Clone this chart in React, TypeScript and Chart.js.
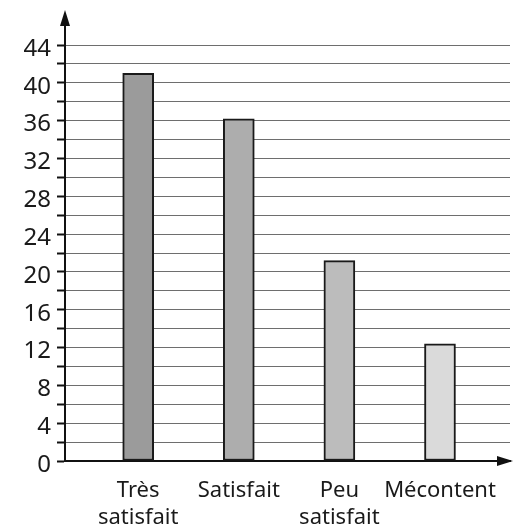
import { useEffect, useRef } from "react";
import { Chart, registerables } from "chart.js";

Chart.register(...registerables);

const categories: string[][] = [["Très", "satisfait"], ["Satisfait"], ["Peu", "satisfait"], ["Mécontent"]];
const values: number[] = [41, 36.2, 21.2, 12.4];
const barColors: string[] = ["#9b9b9b", "#adadad", "#bcbcbc", "#dadada"];
const yMin = 0;
const yMax = 44;
const yStep = 2;
const yLabelStep = 4;

const arrowsPlugin = {
  id: "arrows",
  afterDraw(chart: any) {
    const { ctx, chartArea } = chart;
    const x0 = chartArea.left;
    const y0 = chartArea.bottom;
    ctx.save();
    ctx.strokeStyle = "#111";
    ctx.fillStyle = "#111";
    ctx.lineWidth = 2;
    // y axis extension + arrow
    ctx.beginPath();
    ctx.moveTo(x0, chartArea.top);
    ctx.lineTo(x0, chartArea.top - 22);
    ctx.stroke();
    ctx.beginPath();
    ctx.moveTo(x0, chartArea.top - 35);
    ctx.lineTo(x0 - 5, chartArea.top - 19);
    ctx.lineTo(x0 + 5, chartArea.top - 19);
    ctx.closePath();
    ctx.fill();
    // x axis arrow
    ctx.beginPath();
    ctx.moveTo(chartArea.right + 3, y0);
    ctx.lineTo(chartArea.right - 13, y0 - 5);
    ctx.lineTo(chartArea.right - 13, y0 + 5);
    ctx.closePath();
    ctx.fill();
    ctx.restore();
  },
};

export default function App() {
  const ref = useRef<HTMLCanvasElement | null>(null);
  useEffect(() => {
    document.body.style.margin = "0";
    const chart = new Chart(ref.current as HTMLCanvasElement, {
      type: "bar",
      data: {
        datasets: [
          {
            data: values.map((v, i) => ({ x: i + 1, y: v })),
            backgroundColor: barColors,
            borderColor: "#1a1a1a",
            borderWidth: 2,
            borderSkipped: false,
            barThickness: 31,
          },
        ],
      },
      plugins: [arrowsPlugin],
      options: {
        animation: false,
        responsive: false,
        maintainAspectRatio: false,
        layout: { padding: { top: 45, right: 3, left: 0, bottom: 0 } },
        plugins: { legend: { display: false }, tooltip: { enabled: false } },
        scales: {
          x: {
            type: "linear",
            offset: false,
            min: 0.2724,
            max: 4.696,
            afterBuildTicks: (scale: any) => {
              scale.ticks = categories.map((_, i) => ({ value: i + 1 }));
            },
            afterFit: (scale: any) => {
              scale.height = 68;
            },
            grid: { display: false, drawTicks: false, offset: false },
            border: { display: true, color: "#111", width: 2 },
            ticks: {
              padding: 16,
              maxRotation: 0,
              autoSkip: false,
              color: "#1a1a1a",
              font: { family: "Noto Sans", size: 22, lineHeight: 1.23 },
              callback: (value: any) => categories[Math.round(Number(value)) - 1] ?? "",
            },
          },
          y: {
            min: yMin,
            max: yMax,
            afterFit: (scale: any) => {
              scale.width = 65;
            },
            grid: {
              color: "#6e6e6e",
              lineWidth: 1,
              tickColor: "#111",
              tickLength: 8,
              tickWidth: 2,
            },
            border: { display: true, color: "#111", width: 2 },
            ticks: {
              stepSize: yStep,
              autoSkip: false,
              maxTicksLimit: 100,
              padding: 6,
              labelOffset: 4,
              color: "#1a1a1a",
              font: { family: "Noto Sans", size: 24 },
              callback: (value: any) => (Number(value) % yLabelStep === 0 ? String(value) : ""),
            },
          },
        },
      },
    } as any);
    return () => chart.destroy();
  }, []);
  return (
    <div style={{ width: 513, height: 529, background: "#fff" }}>
      <canvas ref={ref} width={513} height={529} style={{ display: "block" }} />
    </div>
  );
}
